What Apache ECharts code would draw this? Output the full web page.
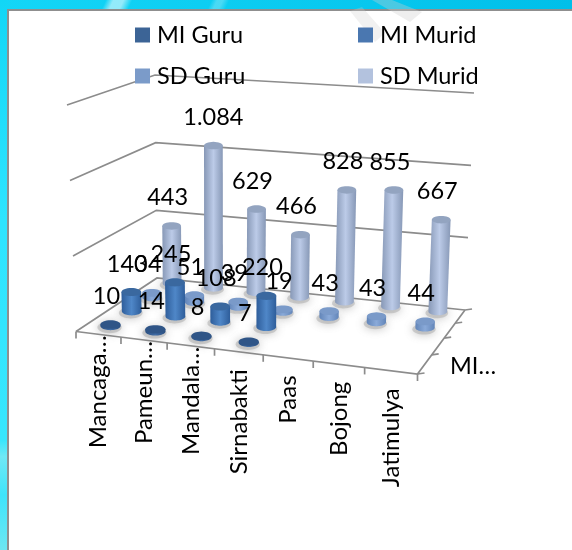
<!DOCTYPE html>
<html>
<head>
<meta charset="utf-8">
<style>
html,body{margin:0;padding:0;width:572px;height:550px;overflow:hidden}
body{background:
 linear-gradient(115deg,transparent 0 96px,rgba(255,255,255,.55) 103px 112px,transparent 120px),
 linear-gradient(115deg,transparent 0 192px,rgba(255,255,255,.25) 197px 202px,transparent 208px),
 linear-gradient(90deg,#14d6f7,#00bfe9);}
#left{position:absolute;left:0;top:0;width:8px;height:550px;background:linear-gradient(180deg,#12d6f6 0,#2ee4ff 40%,#38e6fd 80%,#70e8f5 83%,#3ee4fb 90%,#6de6f2 100%)}
#panel{position:absolute;left:7px;top:9px;width:565px;height:541px;box-sizing:border-box;background:#fff;border-left:2px solid #8f8f8f;border-top:2px solid #8f8f8f}
#main{position:absolute;left:0;top:0;width:572px;height:550px;filter:blur(.4px)}
</style>
</head>
<body>
<div id="left"></div>
<div id="panel"></div>
<div id="main"></div>
<script src="https://cdn.jsdelivr.net/npm/echarts@6/dist/echarts.min.js"></script>
<script>
const categories = ['Mancaga…','Pameun…','Mandala…','Sirnabakti','Paas','Bojong','Jatimulya'];
const seriesNames = ['MI Guru','MI Murid','SD Guru','SD Murid'];
const miGuru  = [10,14,8,7,null,null,null];
const miMurid = [140,245,108,220,null,null,null];
const sdGuru  = [34,51,39,19,43,43,44];
const sdMurid = [443,1084,629,466,828,855,667];
const valueTicks = [0,500,1000,1500];
const depthLabel = 'MI…';

const FAMILY = 'Lato, Carlito, "Noto Sans", sans-serif';
const FONT = '23.5px ' + FAMILY;
const CATFONT = '24px ' + FAMILY;
// projection of the floor corners, front-left, front-right, back-right, back-left
const corners = [[76,331.5],[417.5,374],[465,310],[157,278]];
const wallHeight = [226.5,240,217,203];
const wallLean = [-9,8,9,-2];
const rowDepth = [0.125,0.365,0.625,0.92];
const barScale = 0.95;
function warp(t,g){return t*(1+g)/(1+g*t);}
function bil(a,u,v){return (a[0]*(1-u)+a[1]*u)*(1-v)+(a[3]*(1-u)+a[2]*u)*v;}
function P(u,v,f){
  const uu=warp(u,-0.09),vv=warp(v,0.28);
  const x=bil(corners.map(c=>c[0]),uu,vv),y=bil(corners.map(c=>c[1]),uu,vv);
  return [x+bil(wallLean,uu,vv)*f,y-bil(wallHeight,uu,vv)*f];
}
function ell(c,rx,ry,a0,a1,n){
  const pts=[];
  for(let i=0;i<=n;i++){
    const a=a0+(a1-a0)*i/n;
    pts.push([c[0]+rx*Math.cos(a),c[1]+ry*Math.sin(a)]);
  }
  return pts;
}
const palette=[
 {legend:'#3c6496',edge:'#2b4f80',mid:'#3f6ca6',cap:'#2f5587'},
 {legend:'#4a77b0',edge:'#2e5d9a',mid:'#4f87c8',cap:'#3a689f'},
 {legend:'#7b9bc9',edge:'#6285b8',mid:'#8aaad9',cap:'#7a9ac9'},
 {legend:'#b3c2de',edge:'#8798b6',mid:'#bccbe8',cap:'#93a4c0'}
];
function fmt(v){return v>=1000?String(v).replace(/(\d)(?=(\d{3})$)/,'$1.'):String(v);}
function cylinder(k,values){
  const depth=rowDepth[k],col=palette[k];
  return {
    type:'custom',name:seriesNames[k],coordinateSystem:'cartesian2d',clip:false,
    itemStyle:{color:col.legend},
    data:values.map((v,i)=>[i,v]),
    encode:{x:0,y:1},
    renderItem(params,api){
      const val=api.value(1);
      if(val==null||isNaN(val))return null;
      const cs=params.coordSys,p=api.coord([api.value(0),val]);
      const u=(p[0]-cs.x)/cs.width,f=(cs.y+cs.height-p[1])/cs.height*barScale;
      const B=P(u,depth,0),T=P(u,depth,f);
      const rx=10.2-depth*0.9,ry=4.3-depth*0.6;
      const base=(4-k)*20+params.dataIndex;
      const body=ell(B,rx,ry,0,Math.PI,24);
      body.push([T[0]-rx,T[1]]);
      body.push([T[0]+rx,T[1]]);
      const label=fmt(val);
      return {type:'group',children:[
        {type:'polygon',z2:base-15,shape:{points:ell([B[0]-1,B[1]+1.5],rx+2,ry+1.5,0,Math.PI*2,32)},
          style:{fill:'rgba(170,170,170,.5)',shadowBlur:10,shadowColor:'rgba(110,110,110,.85)'}},
        {type:'polygon',z2:base,shape:{points:body},
          style:{fill:new echarts.graphic.LinearGradient(0,0,1,0,[
            {offset:0,color:col.edge},{offset:.5,color:col.mid},{offset:1,color:col.edge}])}},
        {type:'polygon',z2:base+1,shape:{points:ell(T,rx,ry,0,Math.PI*2,32)},style:{fill:col.cap}},
        {type:'text',z2:1000,x:T[0]-(label.length>3?0:4),y:T[1]-28,
          style:{text:label,font:FONT,fill:'#000',align:'center',verticalAlign:'middle'}}
      ]};
    }
  };
}
const frame={
  type:'custom',name:'frame',coordinateSystem:'cartesian2d',clip:false,silent:true,
  data:[[0,0]],encode:{x:0,y:1},
  renderItem(params,api){
    const cs=params.coordSys,kids=[];
    const line={stroke:'#8c8c8c',lineWidth:1.7,fill:null};
    valueTicks.forEach(t=>{
      const f=(cs.y+cs.height-api.coord([0,t])[1])/cs.height;
      kids.push({type:'polyline',z2:-50,shape:{points:[P(0,0,f),P(0,1,f),P(1,1,f)]},style:line});
    });
    kids.push({type:'polyline',z2:-50,shape:{points:[P(1,1,0),P(1,0,0),P(0,0,0)]},style:line});
    for(let i=0;i<=categories.length;i++){
      const e=P(i/categories.length,0,0);
      kids.push({type:'line',z2:-50,shape:{x1:e[0],y1:e[1],x2:e[0],y2:e[1]+7},style:line});
    }
    for(let i=0;i<=seriesNames.length;i++){
      const e=P(1,i/seriesNames.length,0);
      kids.push({type:'line',z2:-50,shape:{x1:e[0],y1:e[1],x2:e[0]+7,y2:e[1]-1},style:line});
    }
    categories.forEach((c,i)=>{
      const a=P(i/categories.length,0,0),b=P((i+1)/categories.length,0,0);
      const gap=c.endsWith('…')?1:17.5;
      kids.push({type:'text',z2:1000,x:(a[0]+b[0])/2,y:(a[1]+b[1])/2+gap,rotation:Math.PI/2,
        style:{text:c,font:CATFONT,fill:'#000',align:'right',verticalAlign:'middle'}});
    });
    kids.push({type:'text',z2:1000,x:473,y:366,
      style:{text:depthLabel,font:FONT,fill:'#000',align:'center',verticalAlign:'middle'}});
    return {type:'group',children:kids};
  }
};
const legendPos=[[135,23],[358,23],[135,64],[358,64]];
const chart=echarts.init(document.getElementById('main'));
chart.setOption({
  animation:false,
  backgroundColor:'transparent',
  grid:{left:100,top:100,width:372,height:350,show:false},
  xAxis:{type:'category',data:categories,show:false},
  yAxis:{type:'value',min:0,max:1500,interval:500,show:false},
  legend:seriesNames.map((n,i)=>({
    data:[n],left:legendPos[i][0],top:legendPos[i][1],icon:'rect',itemWidth:15,itemHeight:15,
    selectedMode:false,padding:0,z:50,
    textStyle:{fontFamily:FAMILY,fontSize:23.5,color:'#000',padding:[0,0,0,2]}
  })),
  graphic:[
    {type:'polygon',silent:true,z:0,shape:{points:[[350,11],[362,7],[385,33],[375,42]]},style:{fill:'rgba(205,205,205,.28)'}},
    {type:'polygon',silent:true,z:0,shape:{points:[[372,0],[392,0],[422,12],[410,22]]},style:{fill:'rgba(205,205,205,.35)'}}
  ],
  series:[frame].concat([miGuru,miMurid,sdGuru,sdMurid].map((v,k)=>cylinder(k,v)))
});
</script>
</body>
</html>
